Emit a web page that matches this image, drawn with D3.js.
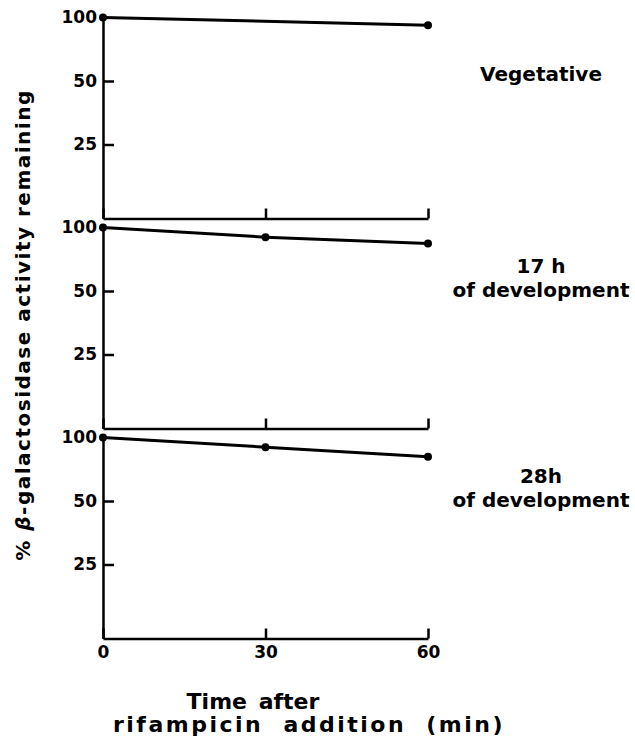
<!DOCTYPE html>
<html>
<head>
<meta charset="utf-8">
<script src="https://cdn.jsdelivr.net/npm/d3@7"></script>
<style>
  body { margin: 0; background: #fff; }
  text { font-family: "DejaVu Sans", sans-serif; font-weight: bold; fill: #000; }
</style>
</head>
<body>
<div id="chart"></div>
<script>
const width = 635, height = 738;

// data
const times = [0, 30, 60];
const vegetative = [100, null, 92];
const dev17 = [100, 90, 84];
const dev28 = [100, 90, 81];
const yTicks = [100, 50, 25];

const series = [vegetative, dev17, dev28];
const labels = [["Vegetative"], ["17 h", "of development"], ["28h", "of development"]];

const svg = d3.select("#chart")
	.append("svg")
	.attr("width", width)
	.attr("height", height);

const x = d3.scaleLinear().domain([0, 60]).range([103, 428]);
const panelH = 201;
const y = d3.scaleLog().domain([100 * Math.pow(2, -panelH / 63.5), 100]).range([panelH, 0]);

const line = d3.line()
	.x(d => x(d.t))
	.y(d => y(d.v));

series.forEach(function(vals, i) {
	const g = svg.append("g")
		.attr("transform", `translate(0, ${17.5 + i * 210})`);

	// left axis, ticks pointing inward
	const ya = g.append("g")
		.attr("transform", `translate(${x(0)}, 0)`)
		.call(d3.axisLeft(y).tickValues(yTicks).tickFormat(d3.format("d"))
			.tickSize(-11).tickSizeOuter(0).tickPadding(6));
	ya.selectAll(".tick text").attr("font-size", 17);
	ya.selectAll(".tick").filter(d => d === 100).select("line").remove();

	// bottom axis
	const xa = g.append("g")
		.attr("transform", `translate(0, ${panelH})`)
		.call(d3.axisBottom(x).tickValues(times)
			.tickSize(-10).tickSizeOuter(0).tickPadding(7));
	xa.selectAll(".tick text").attr("font-size", 17)
		.text(i === 2 ? (d => d) : "");

	g.selectAll(".domain, .tick line")
		.attr("stroke", "#000")
		.attr("stroke-width", 2.5);

	const pts = times.map((t, j) => ({ t: t, v: vals[j] })).filter(d => d.v != null);

	g.append("path")
		.datum(pts)
		.attr("fill", "none")
		.attr("stroke", "#000")
		.attr("stroke-width", 3)
		.attr("d", line);

	g.selectAll(".pt")
		.data(pts)
		.enter()
		.append("circle")
		.attr("class", "pt")
		.attr("cx", d => x(d.t))
		.attr("cy", d => y(d.v))
		.attr("r", 4);

	// panel label
	const lab = g.append("text")
		.attr("text-anchor", "middle")
		.attr("font-size", 20);
	labels[i].forEach(function(s, k) {
		lab.append("tspan")
			.attr("x", 541)
			.attr("y", (i === 0 ? 63 : 45) + k * 24)
			.text(s);
	});
});

// y axis title
svg.append("text")
	.attr("transform", "translate(30, 325) rotate(-90)")
	.attr("text-anchor", "middle")
	.attr("font-size", 20)
	.attr("letter-spacing", 1.5)
	.html('% <tspan font-style="italic">β</tspan>-galactosidase activity remaining');

// x axis title
svg.append("text")
	.attr("x", 253)
	.attr("y", 709)
	.attr("text-anchor", "middle")
	.attr("font-size", 22)
	.attr("word-spacing", 4)
	.text("Time after");

svg.append("text")
	.attr("x", 309)
	.attr("y", 732)
	.attr("text-anchor", "middle")
	.attr("font-size", 22)
	.attr("letter-spacing", 2.5)
	.attr("word-spacing", 10)
	.text("rifampicin addition (min)");
</script>
</body>
</html>
